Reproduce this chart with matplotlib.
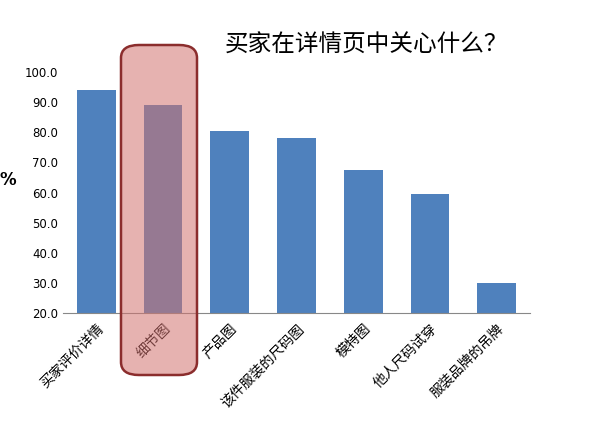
import matplotlib
matplotlib.use("Agg")
import matplotlib.pyplot as plt
from matplotlib.patches import FancyBboxPatch

plt.rcParams['font.family'] = ['Noto Sans CJK SC', 'DejaVu Sans']

categories = ['买家评价详情', '细节图', '产品图', '该件服装的尺码图', '模特图', '他人尺码试穿', '服装品牌的吊牌']
values = [94.0, 89.0, 80.5, 78.0, 67.5, 59.5, 30.0]
yticks = [20, 30, 40, 50, 60, 70, 80, 90, 100]

fig = plt.figure(figsize=(6, 4.29), dpi=100)
ax = fig.add_axes([63/600, 1-313/429, 467/600, (313-72)/429])
x = list(range(len(categories)))
ax.bar(x, values, width=0.58, color='#4f81bd', zorder=2)
ax.set_ylim(20, 100)
ax.set_xlim(-0.5, 6.5)
ax.set_yticks(yticks)
ax.set_yticklabels([f'{v:.1f}' for v in yticks], fontsize=8.5, family='DejaVu Sans')
ax.set_xticks(x)
ax.set_xticklabels(categories, rotation=45, ha='right', rotation_mode='anchor', fontsize=10)
for s in ['top', 'right', 'left']:
    ax.spines[s].set_visible(False)
ax.spines['bottom'].set_color('#888888')
ax.tick_params(axis='both', length=0)
ax.tick_params(axis='x', pad=6)

box = (121/600, 1-375/429, 76/600, 330/429)
rect = FancyBboxPatch(box[:2], box[2], box[3],
                      boxstyle='round,pad=0,rounding_size=0.03',
                      transform=fig.transFigure, facecolor='#d27370', alpha=0.55,
                      edgecolor='none', zorder=5)
fig.patches.append(rect)
rect2 = FancyBboxPatch(box[:2], box[2], box[3],
                       boxstyle='round,pad=0,rounding_size=0.03',
                       transform=fig.transFigure, facecolor='none',
                       edgecolor='#8b2d2d', linewidth=1.8, zorder=6)
fig.patches.append(rect2)

fig.text(225/600, 1-45/429, '买家在详情页中关心什么？', fontsize=17, va='center', ha='left')
fig.text(0.0, 1-180/429, '%', fontsize=12, fontweight='bold', va='center', ha='left', family='DejaVu Sans')

fig.savefig('out.png', dpi=100)
